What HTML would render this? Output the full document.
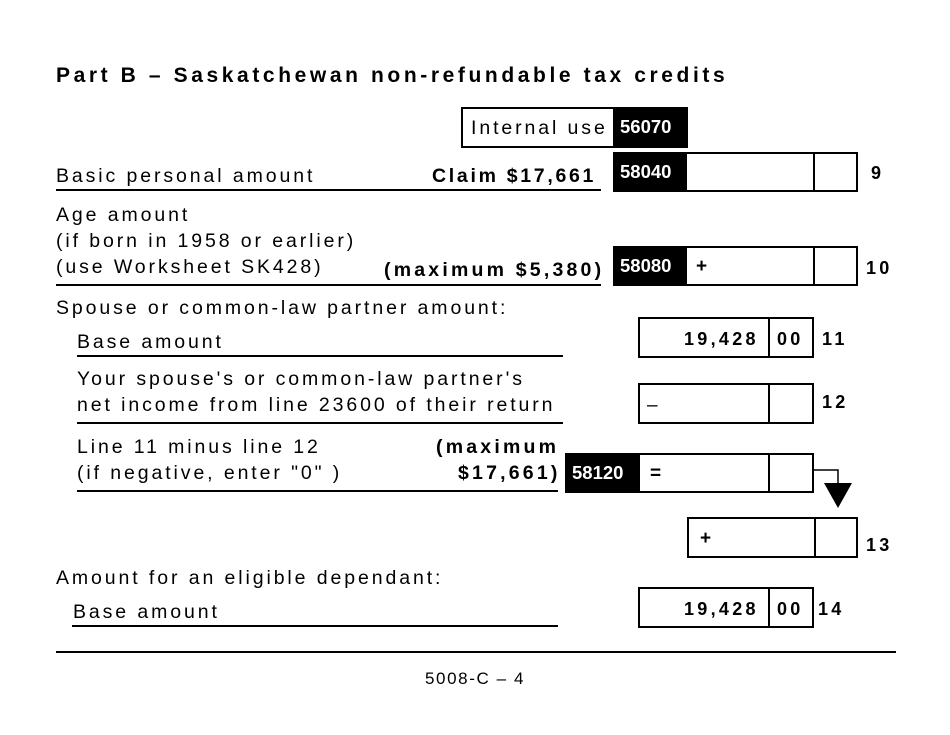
<!DOCTYPE html>
<html><head><meta charset="utf-8"><style>
body{margin:0;width:950px;height:735px;background:#fff;position:relative;font-family:"Liberation Sans",Arial,sans-serif;color:#000;overflow:hidden}
.a{position:absolute;white-space:nowrap}
.t{font-size:19.5px;letter-spacing:2.9px}
.b{font-weight:bold}
.n{font-size:18px;font-weight:bold;letter-spacing:3.3px}
.box{position:absolute;border:2px solid #000;box-sizing:border-box;background:#fff}
.blk{position:absolute;background:#000;color:#fff;font-weight:bold;font-size:18.5px;box-sizing:border-box;padding:9px 0 0 7px}
.ln{position:absolute;height:2px;background:#000}
.vd{position:absolute;width:2px;background:#000}
</style></head><body>
<div class="a b" style="left:56px;top:64px;font-size:21px;letter-spacing:3.6px">Part B – Saskatchewan non-refundable tax credits</div>

<div class="box" style="left:461px;top:107px;width:227px;height:41px"></div>
<div class="a t" style="left:471px;top:117px">Internal use</div>
<div class="blk" style="left:613px;top:107px;width:75px;height:41px">56070</div>

<div class="a t" style="left:56px;top:165px">Basic personal amount</div>
<div class="a t b" style="left:432px;top:165px;letter-spacing:2.7px">Claim $17,661</div>
<div class="ln" style="left:56px;top:189px;width:545px"></div>
<div class="box" style="left:613px;top:152px;width:245px;height:40px"></div>
<div class="vd" style="left:813px;top:152px;height:40px"></div>
<div class="blk" style="left:613px;top:152px;width:74px;height:40px">58040</div>
<div class="a b" style="left:871px;top:163px;font-size:18px">9</div>

<div class="a t" style="left:56px;top:202px;line-height:26px">Age amount<br>(if born in 1958 or earlier)<br>(use Worksheet SK428)</div>
<div class="a t b" style="left:384px;top:259px;letter-spacing:3.2px">(maximum $5,380)</div>
<div class="ln" style="left:56px;top:284px;width:545px"></div>
<div class="box" style="left:613px;top:246px;width:245px;height:40px"></div>
<div class="vd" style="left:813px;top:246px;height:40px"></div>
<div class="blk" style="left:613px;top:246px;width:74px;height:40px">58080</div>
<div class="a" style="left:696px;top:256px;font-size:19px;font-weight:bold">+</div>
<div class="a n" style="left:866px;top:258px">10</div>

<div class="a t" style="left:56px;top:297px">Spouse or common-law partner amount:</div>
<div class="a t" style="left:77px;top:331px">Base amount</div>
<div class="ln" style="left:77px;top:355px;width:486px"></div>
<div class="box" style="left:638px;top:317px;width:176px;height:41px"></div>
<div class="vd" style="left:768px;top:317px;height:41px"></div>
<div class="a n" style="left:684px;top:329px">19,428</div>
<div class="a n" style="left:777px;top:329px">00</div>
<div class="a n" style="left:822px;top:329px">11</div>

<div class="a t" style="left:77px;top:366px;line-height:26px">Your spouse's or common-law partner's<br>net income from line 23600 of their return</div>
<div class="ln" style="left:77px;top:422px;width:486px"></div>
<div class="box" style="left:638px;top:383px;width:176px;height:41px"></div>
<div class="vd" style="left:768px;top:383px;height:41px"></div>
<div class="a" style="left:647px;top:395px;font-size:19px">–</div>
<div class="a n" style="left:822px;top:392px">12</div>

<div class="a t" style="left:77px;top:434px;line-height:26px">Line 11 minus line 12<br>(if negative, enter "0" )</div>
<div class="a t b" style="left:436px;top:436px;letter-spacing:3.2px">(maximum</div>
<div class="a t b" style="left:458px;top:462px;letter-spacing:3.2px">$17,661)</div>
<div class="ln" style="left:77px;top:490px;width:481px"></div>
<div class="box" style="left:565px;top:453px;width:249px;height:40px"></div>
<div class="vd" style="left:768px;top:453px;height:40px"></div>
<div class="blk" style="left:565px;top:453px;width:75px;height:40px">58120</div>
<div class="a b" style="left:650px;top:463px;font-size:19px">=</div>
<svg class="a" style="left:0;top:0" width="950" height="735"><polyline points="814,470 838,470 838,490" fill="none" stroke="#000" stroke-width="1.5"/><polygon points="824,483 852,483 838,508" fill="#000"/></svg>

<div class="box" style="left:687px;top:517px;width:171px;height:41px"></div>
<div class="vd" style="left:814px;top:517px;height:41px"></div>
<div class="a b" style="left:700px;top:528px;font-size:19px">+</div>
<div class="a n" style="left:866px;top:535px">13</div>

<div class="a t" style="left:56px;top:567px">Amount for an eligible dependant:</div>
<div class="a t" style="left:73px;top:601px">Base amount</div>
<div class="ln" style="left:72px;top:625px;width:486px"></div>
<div class="box" style="left:638px;top:587px;width:176px;height:41px"></div>
<div class="vd" style="left:768px;top:587px;height:41px"></div>
<div class="a n" style="left:684px;top:599px">19,428</div>
<div class="a n" style="left:777px;top:599px">00</div>
<div class="a n" style="left:818px;top:599px">14</div>

<div class="ln" style="left:56px;top:651px;width:840px"></div>
<div class="a" style="left:425px;top:669px;font-size:17px;letter-spacing:1.6px">5008-C – 4</div>
</body></html>
